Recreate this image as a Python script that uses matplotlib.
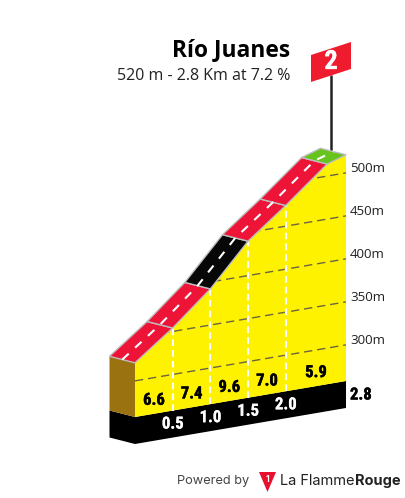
import matplotlib
matplotlib.use("Agg")
import matplotlib.pyplot as plt
import matplotlib.patheffects as pe
from matplotlib.patches import Polygon
from matplotlib.transforms import Affine2D
import numpy as np

# climb profile
km = [0, 0.5, 1.0, 1.5, 2.0, 2.55, 2.8]
elevation = [321, 354, 392, 440, 474, 514, 521]
sector_colors = ["#ee1437", "#ee1437", "#070707", "#ee1437", "#ee1437", "#66c41c"]

gradient_km = [0.25, 0.75, 1.25, 1.75, 2.4]
gradient_labels = ["6.6", "7.4", "9.6", "7.0", "5.9"]
km_marks = [0.5, 1.0, 1.5, 2.0]
km_labels = ["0.5", "1.0", "1.5", "2.0"]
elev_ticks = [300, 350, 400, 450, 500]
elev_labels = ["300m", "350m", "400m", "450m", "500m"]
total_km = 2.8
base_elev = 258

title = "Río Juanes"
subtitle = "520 m - 2.8 Km at 7.2 %"
cat_number = "2"

NARROW = ["Roboto Condensed", "Liberation Sans"]
heavy = [pe.withStroke(linewidth=0.3, foreground="black")]
heavy_white = [pe.withStroke(linewidth=0.2, foreground="white")]

W, H = 405, 498
fig = plt.figure(figsize=(W / 100, H / 100), dpi=100)
ax = fig.add_axes([0, 0, 1, 1])
ax.set_xlim(0, W)
ax.set_ylim(H, 0)
ax.axis("off")

# km/elevation -> pixels, oblique view
proj = Affine2D.from_values(75.36, -12.86, 0, -0.86, 135, 417 + 0.86 * base_elev)
depth = np.array([-25.5, -6.5])


def pt(k, e):
    return proj.transform([[k, e]])[0]


front = np.array([pt(k, e) for k, e in zip(km, elevation)])
b0 = pt(0, base_elev)
b1 = pt(total_km, base_elev)
drop = np.array([0, 27])

# black base and brown side
ax.add_patch(Polygon([b0 + depth, b0, b1, b1 + drop, b0 + drop, b0 + drop + depth],
                     fc="black", ec="none", zorder=1))
ax.add_patch(Polygon([front[0] + depth, front[0], b0, b0 + depth], fc="#9a7210", ec="none", zorder=2))

# yellow face
face = Polygon(list(front) + [b1, b0], fc="#fff200", ec="none", zorder=2)
ax.add_patch(face)

# elevation lines
for e in elev_ticks:
    a, b = pt(0, e), pt(total_km, e)
    line, = ax.plot([a[0], b[0]], [a[1], b[1]], color="#6b6540", lw=1.0, dashes=(6, 3.5), zorder=3)
    line.set_clip_path(face)

# km marks
for k in km_marks:
    e = np.interp(k, km, elevation)
    a, b = pt(k, base_elev), pt(k, e)
    ax.plot([a[0], b[0]], [a[1], b[1]], color="white", lw=1.5, dashes=(3.2, 2), zorder=4)

# road
for i in range(len(km) - 1):
    p, q = front[i], front[i + 1]
    ax.add_patch(Polygon([p, q, q + depth, p + depth], fc=sector_colors[i], ec="#bdbdbd", lw=1.0,
                         joinstyle="round", zorder=5))
mid = front + depth / 2
ax.plot(mid[:, 0], mid[:, 1], color="white", lw=1.5, dashes=(4.2, 4.2), zorder=6)

# flag
pole_x = 331
ax.plot([pole_x, pole_x], [75, 153], color="#222222", lw=1.8, zorder=4, solid_capstyle="butt")
ax.add_patch(Polygon([(311, 55), (351, 42), (351, 69), (311, 82)], fc="#ee1c2e", ec="none", zorder=7))
ax.text(331, 62, cat_number, color="white", fontsize=19, family=NARROW, weight="bold",
        ha="center", va="center", zorder=8, path_effects=heavy_white)

# text
ax.text(290, 50, title, fontsize=16.4, family="Open Sans", weight="bold", color="black", ha="right", va="center")
ax.text(290, 76, subtitle, fontsize=11.5, family="Open Sans", color="#222222", ha="right", va="center")

for e, s in zip(elev_ticks, elev_labels):
    ax.text(350, pt(total_km, e)[1] - 4.5, s, fontsize=9.6, family="Open Sans", color="#222222", ha="left", va="center")
ax.text(350, 395, str(total_km), fontsize=12, family=NARROW, weight="bold", color="black",
        ha="left", va="center", path_effects=heavy)

for k, s in zip(gradient_km, gradient_labels):
    p = pt(k, base_elev)
    ax.text(p[0], p[1] - 13.5, s, fontsize=12, family=NARROW, weight="bold", color="black",
            ha="center", va="center", zorder=6, path_effects=heavy)
for k, s in zip(km_marks, km_labels):
    p = pt(k, base_elev)
    ax.text(p[0], p[1] + 13.5, s, fontsize=12, family=NARROW, weight="bold", color="white",
            ha="center", va="center", zorder=6, path_effects=heavy_white)

# footer logo
ax.text(249, 481, "Powered by", fontsize=9.2, family="Inter", color="#444444", ha="right", va="center")
ax.add_patch(Polygon([(259, 472), (276, 472), (267.5, 492)], fc="#e8112d", ec="none"))
ax.text(267.5, 479, "1", fontsize=6, family="Inter", weight="bold", color="white", ha="center", va="center")
ax.text(280, 481, "La Flamme", fontsize=10.5, family="Inter", color="#222222", ha="left", va="center")
ax.text(354.5, 481, "Rouge", fontsize=10.5, family="Inter", weight="bold", color="#222222", ha="left", va="center")

fig.savefig("out.png", dpi=100)
